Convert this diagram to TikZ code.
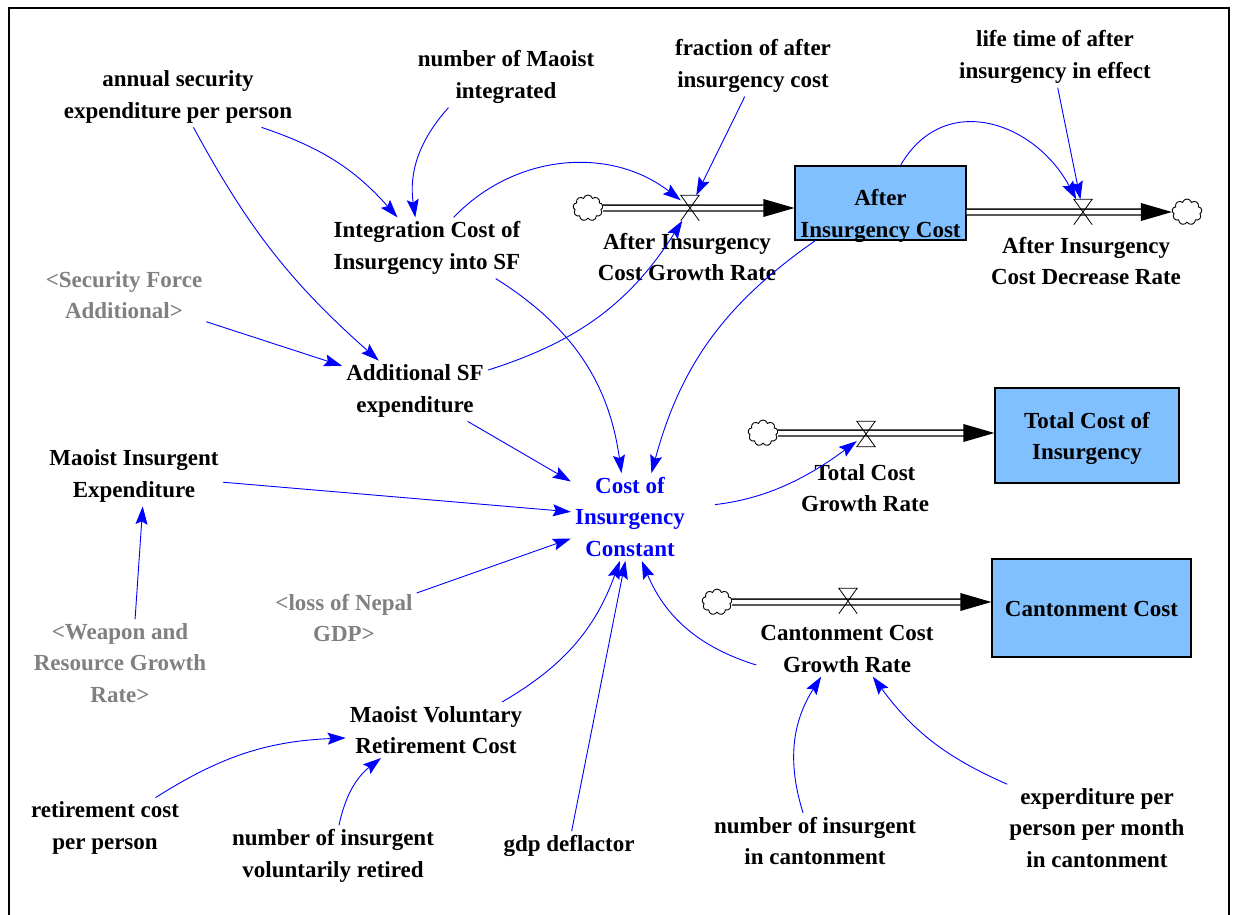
\documentclass[tikz,border=0pt]{standalone}
\usepackage{fontspec}
\setmainfont{Liberation Serif}
\usetikzlibrary{arrows.meta, shapes.symbols}
\definecolor{stockblue}{RGB}{128,192,255}
\definecolor{linkblue}{RGB}{0,0,255}
\definecolor{ghostgray}{RGB}{128,128,128}

\begin{document}
\begin{tikzpicture}[x=1pt, y=1pt]
\tikzstyle{vartext}=[align=center, inner sep=4pt, font=\bfseries\fontsize{23}{31.5}\selectfont]
\tikzstyle{var}=[vartext, yshift=-3pt]
\tikzstyle{ghost}=[var, text=ghostgray]
\tikzstyle{stock}=[rectangle, draw=black, line width=1.2pt, fill=stockblue, inner sep=0pt]
\tikzstyle{valve}=[rectangle, minimum width=18pt, minimum height=25pt, inner sep=0pt]
\tikzstyle{source}=[cloud, cloud puffs=9, cloud ignores aspect, draw, line width=0.9pt, minimum width=30pt, minimum height=26pt, inner sep=0pt]
\tikzstyle{pipe}=[double=white, double distance=4.5pt, line width=1.3pt, shorten >=29pt]
\tikzstyle{link}=[-{Stealth[length=18pt, width=12pt, inset=3pt]}, draw=linkblue, line width=0.9pt]
    \useasboundingbox (0,0) rectangle (1235,-915);
    \draw[line width=2pt] (9,-920) -- (9,-8) -- (1229,-8) -- (1229,-920);

    % stocks
    \node[stock, minimum width=171pt, minimum height=74pt,
          label={[vartext, yshift=-13pt]center:After\\Insurgency Cost}] (AIC) at (880.5,-203) {};
    \node[stock, minimum width=184pt, minimum height=95pt,
          label={[vartext, yshift=-3pt]center:Total Cost of\\Insurgency}] (TCI) at (1087,-435.5) {};
    \node[stock, minimum width=199pt, minimum height=98pt,
          label={[vartext, yshift=-1pt]center:Cantonment Cost}] (CC) at (1091.5,-608) {};

    % clouds and valves
    \node[source] (cAG) at (588,-208) {};
    \node[source] (cAD) at (1187,-212) {};
    \node[source] (cTC) at (763,-433) {};
    \node[source] (cCC) at (717,-602) {};
    \node[valve] (vAG) at (690,-208) {};
    \node[valve] (vAD) at (1083,-212) {};
    \node[valve] (vTC) at (866,-434) {};
    \node[valve] (vCC) at (848,-601) {};

    % pipes
    \draw[pipe] (cAG.east) -- (AIC.west |- cAG);
    \fill (AIC.west |- cAG) -- ++(-31,9) -- ++(0,-18) -- cycle;
    \draw[pipe] (AIC.east |- cAD) -- (cAD.west);
    \fill (cAD.west) -- ++(-31,9) -- ++(0,-18) -- cycle;
    \draw[pipe] (cTC.east) -- (TCI.west |- cTC);
    \fill (TCI.west |- cTC) -- ++(-31,9) -- ++(0,-18) -- cycle;
    \draw[pipe] (cCC.east) -- (CC.west |- cCC);
    \fill (CC.west |- cCC) -- ++(-31,9) -- ++(0,-18) -- cycle;
    \foreach \v in {vAG,vAD,vCC}
        \draw[line width=0.8pt] (\v.south west) -- (\v.north east) -- (\v.north west) -- (\v.south east);
    \draw[line width=0.8pt] (vTC.north west) -- (vTC.north east) -- (vTC.south west) -- (vTC.south east) -- cycle;

    % variables
    \node[var] (annual) at (178,-94) {annual security\\expenditure per person};
    \node[var] (nummaoist) at (506,-74) {number of Maoist\\integrated};
    \node[var] (fraction) at (753,-63) {fraction of after\\insurgency cost};
    \node[var] (lifetime) at (1055,-54) {life time of after\\insurgency in effect};
    \node[var] (integ) at (427,-245) {Integration Cost of\\Insurgency into SF};
    \node[ghost] (sfadd) at (124,-292) {<Security Force\\Additional>};
    \node[var] (addsf) at (415,-388) {Additional SF\\expenditure};
    \node[var] (maoexp) at (134,-473) {Maoist Insurgent\\Expenditure};
    \node[var, text=linkblue] (cost) at (630,-514) {Cost of\\Insurgency\\Constant};
    \node[ghost] (lossgdp) at (344,-615) {<loss of Nepal\\GDP>};
    \node[ghost] (weapon) at (120,-660) {<Weapon and\\Resource Growth\\Rate>};
    \node[var] (voluntary) at (436,-727) {Maoist Voluntary\\Retirement Cost};
    \node[var] (retcost) at (105,-825) {retirement cost\\per person};
    \node[var] (numretired) at (333,-853) {number of insurgent\\voluntarily retired};
    \node[var] (gdp) at (569,-843) {gdp deflactor};
    \node[var] (numcant) at (815,-838) {number of insurgent\\in cantonment};
    \node[var] (expcant) at (1097,-825) {experditure per\\person per month\\in cantonment};
    \node[var] (aigr) at (687,-254) {After Insurgency\\Cost Growth Rate};
    \node[var] (aidr) at (1086,-258) {After Insurgency\\Cost Decrease Rate};
    \node[var] (tcgr) at (865,-485) {Total Cost\\Growth Rate};
    \node[var] (ccgr) at (847,-646) {Cantonment Cost\\Growth Rate};

    % links
    \path (annual.-20) edge[link, bend left=15] (integ.134)
          (annual.-63) edge[link, bend right=10] (addsf.140)
          (nummaoist.208) edge[link, bend right=25] (integ.111)
          (integ.49) edge[link, bend left=42] (vAG)
          (fraction.-105) edge[link] (vAG)
          (addsf.16) edge[link, bend right=20] (vAG)
          (AIC.62) edge[link, out=60, in=118, looseness=1.25] (vAD)
          (lifetime.-85) edge[link] (vAD)
          (sfadd.-18) edge[link] (addsf.161)
          (integ.-24) edge[link, bend left=25] (cost.101)
          (AIC.-150) edge[link, bend right=20] (cost.64)
          (addsf.-30) edge[link] (cost.149)
          (maoexp.-4) edge[link] (cost.175)
          (lossgdp.19) edge[link] (cost.200)
          (weapon.71) edge[link] (maoexp.-74)
          (voluntary.23) edge[link, bend right=20] (cost.-103)
          (gdp.80) edge[link] (cost.-96)
          (ccgr.190) edge[link, bend left=25] (cost.-75)
          (cost.9) edge[link, bend right=15, shorten <=26pt] (vTC)
          (retcost.31) edge[link, bend left=15] (voluntary.185)
          (numretired.79) edge[link, bend left=20] (voluntary.207)
          (numcant.113) edge[link, bend left=25] (ccgr.-133)
          (expcant.154) edge[link, bend left=15] (ccgr.-47);
\end{tikzpicture}
\end{document}
